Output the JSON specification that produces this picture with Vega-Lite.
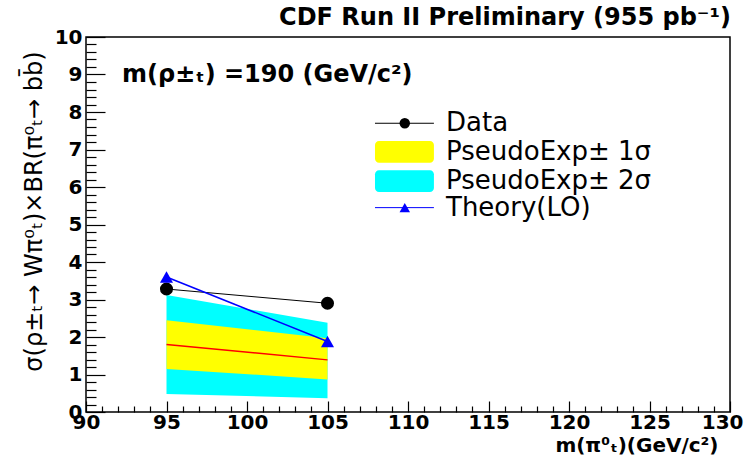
{
  "$schema": "https://vega.github.io/schema/vega-lite/v6.json",
  "width": 644,
  "height": 375,
  "autosize": {"type": "none"},
  "padding": {"left": 86, "top": 37, "right": 15, "bottom": 46},
  "background": "white",
  "config": {
    "view": {"stroke": "#000", "strokeWidth": 1.5},
    "font": "DejaVu Sans",
    "axis": {"labelColor": "#000", "tickColor": "#000", "titleColor": "#000", "grid": false, "domain": false}
  },
  "title": {
    "text": "CDF Run II Preliminary (955 pb⁻¹)",
    "anchor": "end",
    "font": "DejaVu Sans",
    "fontSize": 24,
    "fontWeight": "bold",
    "color": "#000",
    "offset": -3,
    "dx": -12
  },
  "datasets": {
    "pts": [
      {"m": 95, "data": 3.28, "theory": 3.6, "median": 1.8, "lo1": 1.15, "hi1": 2.45, "lo2": 0.48, "hi2": 3.12},
      {"m": 105, "data": 2.9, "theory": 1.88, "median": 1.39, "lo1": 0.87, "hi1": 1.97, "lo2": 0.37, "hi2": 2.38}
    ]
  },
  "layer": [
    {
      "data": {"name": "pts"},
      "mark": {"type": "area", "color": "#00ffff", "opacity": 1},
      "encoding": {
        "x": {"field": "m", "type": "quantitative",
          "scale": {"domain": [90, 130], "nice": false, "zero": false},
          "axis": {"orient": "bottom", "values": [90, 95, 100, 105, 110, 115, 120, 125, 130], "tickSize": -11, "tickWidth": 1.2,
            "labelFont": "DejaVu Sans", "labelFontSize": 20, "labelFontWeight": "bold", "labelPadding": 11, "labelFlush": false,
            "labelAlign": {"condition": {"test": "datum.value == 130", "value": "right"}, "value": "center"},
            "labelOffset": {"condition": {"test": "datum.value == 130", "value": 13}, "value": 0},
            "title": "m(π⁰ₜ)(GeV/c²)", "titleFont": "DejaVu Sans", "titleFontSize": 20, "titleFontWeight": "bold",
            "titleX": 632, "titleY": 33, "titleAlign": "right", "titleBaseline": "middle"}},
        "y": {"field": "lo2", "type": "quantitative",
          "scale": {"domain": [0, 10], "nice": false, "zero": false},
          "axis": {"orient": "left", "values": [0, 1, 2, 3, 4, 5, 6, 7, 8, 9, 10], "tickSize": -19, "tickWidth": 1.2,
            "labelFont": "DejaVu Sans", "labelFontSize": 20, "labelFontWeight": "bold", "labelPadding": 23, "labelFlush": false,
            "title": "σ(ρ±ₜ→ Wπ⁰ₜ)×BR(π⁰ₜ→ bb̄)", "titleFont": "DejaVu Sans", "titleFontSize": 24, "titleFontWeight": "normal",
            "titleAngle": -90, "titleX": -52, "titleY": 174, "titleAlign": "center", "titleBaseline": "middle"}},
        "y2": {"field": "hi2"}
      }
    },
    {
      "data": {"name": "pts"},
      "mark": {"type": "area", "color": "#ffff00", "opacity": 1},
      "encoding": {
        "x": {"field": "m", "type": "quantitative",
          "axis": {"orient": "bottom", "values": [91, 92, 93, 94, 96, 97, 98, 99, 101, 102, 103, 104, 106, 107, 108, 109, 111, 112, 113, 114, 116, 117, 118, 119, 121, 122, 123, 124, 126, 127, 128, 129],
            "tickSize": -6, "tickWidth": 1.2, "labels": false, "title": null}},
        "y": {"field": "lo1", "type": "quantitative",
          "axis": {"orient": "left", "values": [0.2, 0.4, 0.6, 0.8, 1.2, 1.4, 1.6, 1.8, 2.2, 2.4, 2.6, 2.8, 3.2, 3.4, 3.6, 3.8, 4.2, 4.4, 4.6, 4.8, 5.2, 5.4, 5.6, 5.8, 6.2, 6.4, 6.6, 6.8, 7.2, 7.4, 7.6, 7.8, 8.2, 8.4, 8.6, 8.8, 9.2, 9.4, 9.6, 9.8],
            "tickSize": -10, "tickWidth": 1.2, "labels": false, "title": null}},
        "y2": {"field": "hi1"}
      }
    },
    {
      "data": {"name": "pts"},
      "mark": {"type": "line", "color": "#ff0000", "strokeWidth": 1.5},
      "encoding": {
        "x": {"field": "m", "type": "quantitative", "axis": null},
        "y": {"field": "median", "type": "quantitative", "axis": null}
      }
    },
    {
      "data": {"name": "pts"},
      "mark": {"type": "line", "color": "#000000", "strokeWidth": 1},
      "encoding": {
        "x": {"field": "m", "type": "quantitative", "axis": null},
        "y": {"field": "data", "type": "quantitative", "axis": null}
      }
    },
    {
      "data": {"name": "pts"},
      "mark": {"type": "point", "shape": "circle", "filled": true, "color": "#000000", "size": 170, "opacity": 1},
      "encoding": {
        "x": {"field": "m", "type": "quantitative", "axis": null},
        "y": {"field": "data", "type": "quantitative", "axis": null}
      }
    },
    {
      "data": {"name": "pts"},
      "mark": {"type": "line", "color": "#0000ff", "strokeWidth": 1.5},
      "encoding": {
        "x": {"field": "m", "type": "quantitative", "axis": null},
        "y": {"field": "theory", "type": "quantitative", "axis": null}
      }
    },
    {
      "data": {"name": "pts"},
      "mark": {"type": "point", "shape": "triangle-up", "filled": true, "color": "#0000ff", "size": 170, "opacity": 1},
      "encoding": {
        "x": {"field": "m", "type": "quantitative", "axis": null},
        "y": {"field": "theory", "type": "quantitative", "axis": null}
      }
    },
    {
      "data": {"values": [
        {"x1": 107.95, "x2": 111.61, "y1": 6.65, "y2": 7.23, "c": "yellow"},
        {"x1": 107.95, "x2": 111.61, "y1": 5.87, "y2": 6.45, "c": "cyan"}
      ]},
      "mark": {"type": "rect", "cornerRadius": 4},
      "encoding": {
        "x": {"field": "x1", "type": "quantitative", "axis": null},
        "x2": {"field": "x2"},
        "y": {"field": "y1", "type": "quantitative", "axis": null},
        "y2": {"field": "y2"},
        "color": {"field": "c", "type": "nominal", "scale": {"domain": ["yellow", "cyan"], "range": ["#ffff00", "#00ffff"]}, "legend": null}
      }
    },
    {
      "data": {"values": [
        {"x": 107.95, "y": 7.7}, {"x": 111.61, "y": 7.7}
      ]},
      "mark": {"type": "line", "color": "#000000", "strokeWidth": 1},
      "encoding": {
        "x": {"field": "x", "type": "quantitative", "axis": null},
        "y": {"field": "y", "type": "quantitative", "axis": null}
      }
    },
    {
      "data": {"values": [
        {"x": 107.95, "y": 5.45}, {"x": 111.61, "y": 5.45}
      ]},
      "mark": {"type": "line", "color": "#0000ff", "strokeWidth": 1},
      "encoding": {
        "x": {"field": "x", "type": "quantitative", "axis": null},
        "y": {"field": "y", "type": "quantitative", "axis": null}
      }
    },
    {
      "data": {"values": [{"x": 109.8, "y": 7.7}]},
      "mark": {"type": "point", "shape": "circle", "filled": true, "color": "#000000", "size": 110, "opacity": 1},
      "encoding": {
        "x": {"field": "x", "type": "quantitative", "axis": null},
        "y": {"field": "y", "type": "quantitative", "axis": null}
      }
    },
    {
      "data": {"values": [{"x": 109.8, "y": 5.45}]},
      "mark": {"type": "point", "shape": "triangle-up", "filled": true, "color": "#0000ff", "size": 110, "opacity": 1},
      "encoding": {
        "x": {"field": "x", "type": "quantitative", "axis": null},
        "y": {"field": "y", "type": "quantitative", "axis": null}
      }
    },
    {
      "data": {"values": [
        {"x": 112.36, "y": 7.7, "t": "Data"},
        {"x": 112.36, "y": 6.94, "t": "PseudoExp± 1σ"},
        {"x": 112.36, "y": 6.16, "t": "PseudoExp± 2σ"},
        {"x": 112.36, "y": 5.45, "t": "Theory(LO)"}
      ]},
      "mark": {"type": "text", "align": "left", "baseline": "middle", "font": "DejaVu Sans", "fontSize": 26, "color": "#000"},
      "encoding": {
        "x": {"field": "x", "type": "quantitative", "axis": null},
        "y": {"field": "y", "type": "quantitative", "axis": null},
        "text": {"field": "t"}
      }
    },
    {
      "data": {"values": [{"x": 92.24, "y": 8.99, "t": "m(ρ±ₜ) =190 (GeV/c²)"}]},
      "mark": {"type": "text", "align": "left", "baseline": "middle", "font": "DejaVu Sans", "fontSize": 24, "fontWeight": "bold", "color": "#000"},
      "encoding": {
        "x": {"field": "x", "type": "quantitative", "axis": null},
        "y": {"field": "y", "type": "quantitative", "axis": null},
        "text": {"field": "t"}
      }
    }
  ],
  "resolve": {"axis": {"x": "independent", "y": "independent"}}
}
